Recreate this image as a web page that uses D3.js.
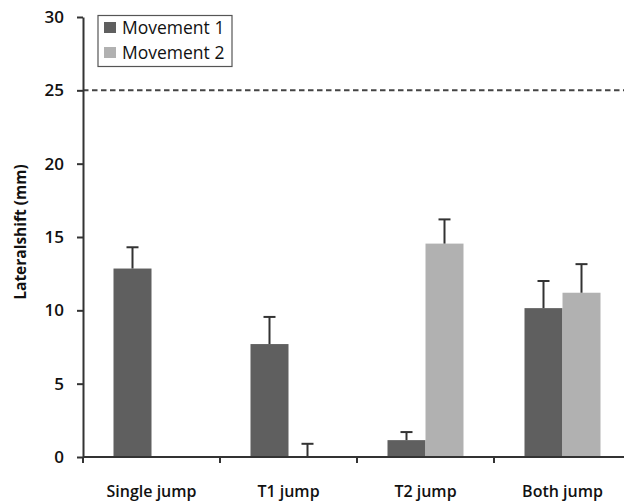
<!DOCTYPE html>
<html><head><meta charset="utf-8">
<script src="https://cdn.jsdelivr.net/npm/d3@7"></script>
<style>body{margin:0;background:#fff}svg{display:block}</style>
</head><body>
<svg id="c" width="624" height="503"></svg>
<script>
const categories = ["Single jump", "T1 jump", "T2 jump", "Both jump"];
const seriesNames = ["Movement 1", "Movement 2"];
const movement1 = [12.85, 7.7, 1.15, 10.15];
const movement2 = [null, 0.05, 14.55, 11.2];
const movement1Err = [1.45, 1.85, 0.55, 1.85];
const movement2Err = [null, 0.85, 1.65, 1.95];
const yTicks = [0, 5, 10, 15, 20, 25, 30];
const refLine = 25;
const colors = ["#5f5f5f", "#b1b1b1"];

(function(){
const svg = d3.select("#c");
const mLeft = 83, mRight = 631, mTop = 17, mBottom = 457;
const y = d3.scaleLinear().domain([0, 30]).range([mBottom, mTop]);
const x = d3.scaleBand().domain(categories).range([mLeft, mRight]).paddingInner(0).paddingOuter(0);
const x1 = d3.scaleBand().domain(seriesNames).range([x.bandwidth()/2 - 38, x.bandwidth()/2 + 38]);

const font = "'Open Sans', sans-serif";

svg.append("line").attr("x1", mLeft).attr("x2", 624).attr("y1", y(refLine)).attr("y2", y(refLine))
  .attr("stroke", "#444").attr("stroke-width", 2).attr("stroke-dasharray", "5.5,3.5");

const data = [movement1, movement2];
const errs = [movement1Err, movement2Err];
data.forEach((vals, si) => {
  const g = svg.append("g");
  categories.forEach((c, i) => {
    const v = vals[i];
    if (v == null) return;
    const bx = x(c) + x1(seriesNames[si]);
    const bw = x1.bandwidth();
    g.append("rect").attr("x", bx).attr("y", y(v)).attr("width", bw).attr("height", y(0) - y(v))
      .attr("fill", colors[si]);
    const e = errs[si][i];
    const cx = bx + bw/2;
    g.append("line").attr("x1", cx).attr("x2", cx).attr("y1", y(v)).attr("y2", y(v + e))
      .attr("stroke", "#333").attr("stroke-width", 2);
    g.append("line").attr("x1", cx - 6).attr("x2", cx + 6).attr("y1", y(v + e)).attr("y2", y(v + e))
      .attr("stroke", "#333").attr("stroke-width", 2);
  });
});

const yAxis = svg.append("g").attr("transform", `translate(${mLeft},0)`)
  .call(d3.axisLeft(y).tickValues(yTicks).tickSize(6).tickSizeOuter(0));
yAxis.select(".domain").attr("stroke", "#333").attr("stroke-width", 2);
yAxis.selectAll(".tick line").attr("stroke", "#333").attr("stroke-width", 2);
yAxis.selectAll(".tick text").attr("font-family", font).attr("font-size", 17).attr("font-weight", 600)
  .attr("fill", "#111").attr("x", -19);

svg.append("line").attr("x1", mLeft).attr("x2", 624).attr("y1", mBottom).attr("y2", mBottom)
  .attr("stroke", "#333").attr("stroke-width", 2);
const bounds = categories.map(c => x(c)).concat([x(categories[categories.length-1]) + x.bandwidth()]);
bounds.forEach(b => {
  if (b > 624) return;
  svg.append("line").attr("x1", b).attr("x2", b).attr("y1", mBottom).attr("y2", mBottom + 6)
    .attr("stroke", "#333").attr("stroke-width", 2);
});
categories.forEach(c => {
  svg.append("text").attr("x", x(c) + x.bandwidth()/2).attr("y", 497).attr("text-anchor", "middle")
    .attr("font-family", font).attr("font-size", 16).attr("font-weight", 600).attr("fill", "#111").text(c);
});

svg.append("text").attr("transform", `translate(26,232) rotate(-90)`)
  .attr("text-anchor", "middle").attr("font-family", font).attr("font-size", 15.5).attr("font-weight", 700)
  .attr("fill", "#111").text("Lateralshift (mm)");

const lg = svg.append("g");
lg.append("rect").attr("x", 98).attr("y", 15.5).attr("width", 134).attr("height", 51)
  .attr("fill", "#fff").attr("stroke", "#555").attr("stroke-width", 1.2);
seriesNames.forEach((s, i) => {
  lg.append("rect").attr("x", 104).attr("y", 22 + i*25).attr("width", 12).attr("height", 11).attr("fill", colors[i]);
  lg.append("text").attr("x", 122).attr("y", 33.5 + i*25).attr("font-family", font).attr("font-size", 17.5)
    .attr("font-weight", 400).attr("fill", "#111").text(s);
});
})();
</script>
</body></html>
